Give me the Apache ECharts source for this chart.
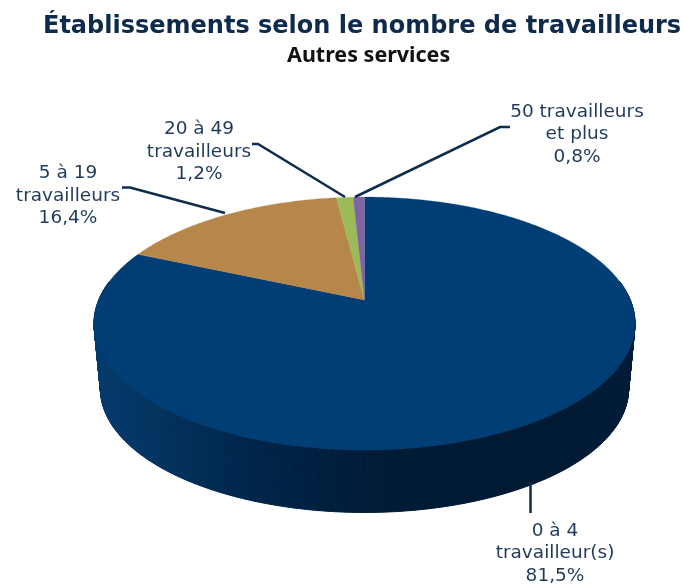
<!DOCTYPE html>
<html><head><meta charset="utf-8">
<style>html,body{margin:0;padding:0;background:#fff}#c{width:683px;height:585px}</style>
<script src="https://cdn.jsdelivr.net/npm/echarts@6/dist/echarts.min.js"></script>
</head><body><div id="c"></div>
<script>
const titleText = "Établissements selon le nombre de travailleurs";
const subtitleText = "Autres services";
const categories = ["0 à 4\ntravailleur(s)", "5 à 19\ntravailleurs", "20 à 49\ntravailleurs", "50 travailleurs\net plus"];
const values = [81.5, 16.4, 1.2, 0.8];
const colors = ["#003E75", "#B7864A", "#9BBB59", "#8064A2"];

// Layout of the perspective pie
const P = {cx:364.5, apexY:300, a:265.8, b:122.1, k:-0.186};
const depthScale = 0.976, depthDy = 65.5, cyTop = 323.5;
const labelPos = [[555,553.5],[68,196],[199,152],[577,134.5]];
const leaders = [
  [[530.5,482],[530.5,513]],
  [[225,213],[130,187.5],[122,187.5]],
  [[345,197],[258,144],[252,144]],
  [[355,197],[500,127],[510,127]]
];
const total = values.reduce((s,v)=>s+v,0);
const cum = values.reduce((acc,v)=>{acc.push(acc[acc.length-1]+v);return acc;},[0]);

function project(theta){ // theta clockwise from 12 o'clock
  const X=Math.sin(theta), Y=-Math.cos(theta), w=1+P.k*Y;
  return [P.cx+P.a*X/w, P.apexY+P.b*Y/w];
}
function projectBottom(theta){
  const p=project(theta);
  return [P.cx+(p[0]-P.cx)*depthScale, cyTop+depthDy+(p[1]-cyTop)*depthScale];
}
function arc(fn,t0,t1){
  const n=Math.max(2,Math.ceil(Math.abs(t1-t0)/0.01)), pts=[];
  for(let i=0;i<=n;i++) pts.push(fn(t0+(t1-t0)*i/n));
  return pts;
}
const ang=v=>v/total*2*Math.PI;
const wallPalette=['#043B6D','#03335F','#012A52','#002347','#001E3D','#001B36','#001A33','#001A33','#001A34','#011C38'];
function wallColor(x){
  const t=Math.min(1,Math.max(0,(x-94)/(635-94)));
  return echarts.color.lerp(t,wallPalette);
}
function renderWall(params,api){
  const i=params.dataIndex;
  const vis0=Math.PI*0.45, vis1=Math.PI*1.55;
  const t0=Math.max(ang(cum[i]),vis0), t1=Math.min(ang(cum[i]+api.value(0)),vis1);
  if(t1<=t0) return {type:'group',children:[]};
  const top=arc(project,t0,t1), bot=arc(projectBottom,t0,t1), children=[];
  for(let j=0;j<top.length-1;j++){
    const c=wallColor(top[j][0]);
    children.push({type:'polygon',shape:{points:[top[j],top[j+1],bot[j+1],bot[j]]},
      style:{fill:c,stroke:c,lineWidth:1}});
  }
  return {type:'group',children};
}
function renderTop(params,api){
  const i=params.dataIndex;
  const t0=ang(cum[i]), t1=ang(cum[i]+api.value(0));
  const pts=[[P.cx,P.apexY]].concat(arc(project,t0,t1));
  return {type:'polygon',shape:{points:pts},style:{fill:colors[i],stroke:colors[i],lineWidth:0.3}};
}
function pct(v){return v.toFixed(1).replace('.',',')+'%';}
function renderLabel(params,api){
  const i=params.dataIndex;
  return {type:'group',children:[
    {type:'polyline',shape:{points:leaders[i]},style:{stroke:'#0D2C4E',lineWidth:2.5,fill:null}},
    {type:'text',style:{text:categories[i]+'\n'+pct(api.value(0)),x:labelPos[i][0],y:labelPos[i][1],
      align:'center',verticalAlign:'middle',textAlign:'center',textVerticalAlign:'middle',
      fontFamily:'"DejaVu Sans"',fontSize:18.5,lineHeight:22.5,fill:'#1F3A5C'}}
  ]};
}
const seriesData=values.map(v=>[v]);
const chart=echarts.init(document.getElementById('c'),null,{renderer:'canvas'});
chart.setOption({
  animation:false,
  backgroundColor:'#fff',
  title:[
    {text:titleText,left:43,top:15,textStyle:{fontFamily:'"DejaVu Sans"',fontWeight:700,fontSize:24,color:'#0F2B4B'},padding:0},
    {text:subtitleText,left:287,top:45,textStyle:{fontFamily:'"Noto Sans"',fontWeight:700,fontSize:21.5,color:'#111'},padding:0}
  ],
  series:[
    {type:'custom',coordinateSystem:'none',renderItem:renderWall,data:seriesData,silent:true,z:1},
    {type:'custom',coordinateSystem:'none',renderItem:renderTop,data:seriesData,silent:true,z:2},
    {type:'custom',coordinateSystem:'none',renderItem:renderLabel,data:seriesData,silent:true,z:3}
  ]
});
</script></body></html>
